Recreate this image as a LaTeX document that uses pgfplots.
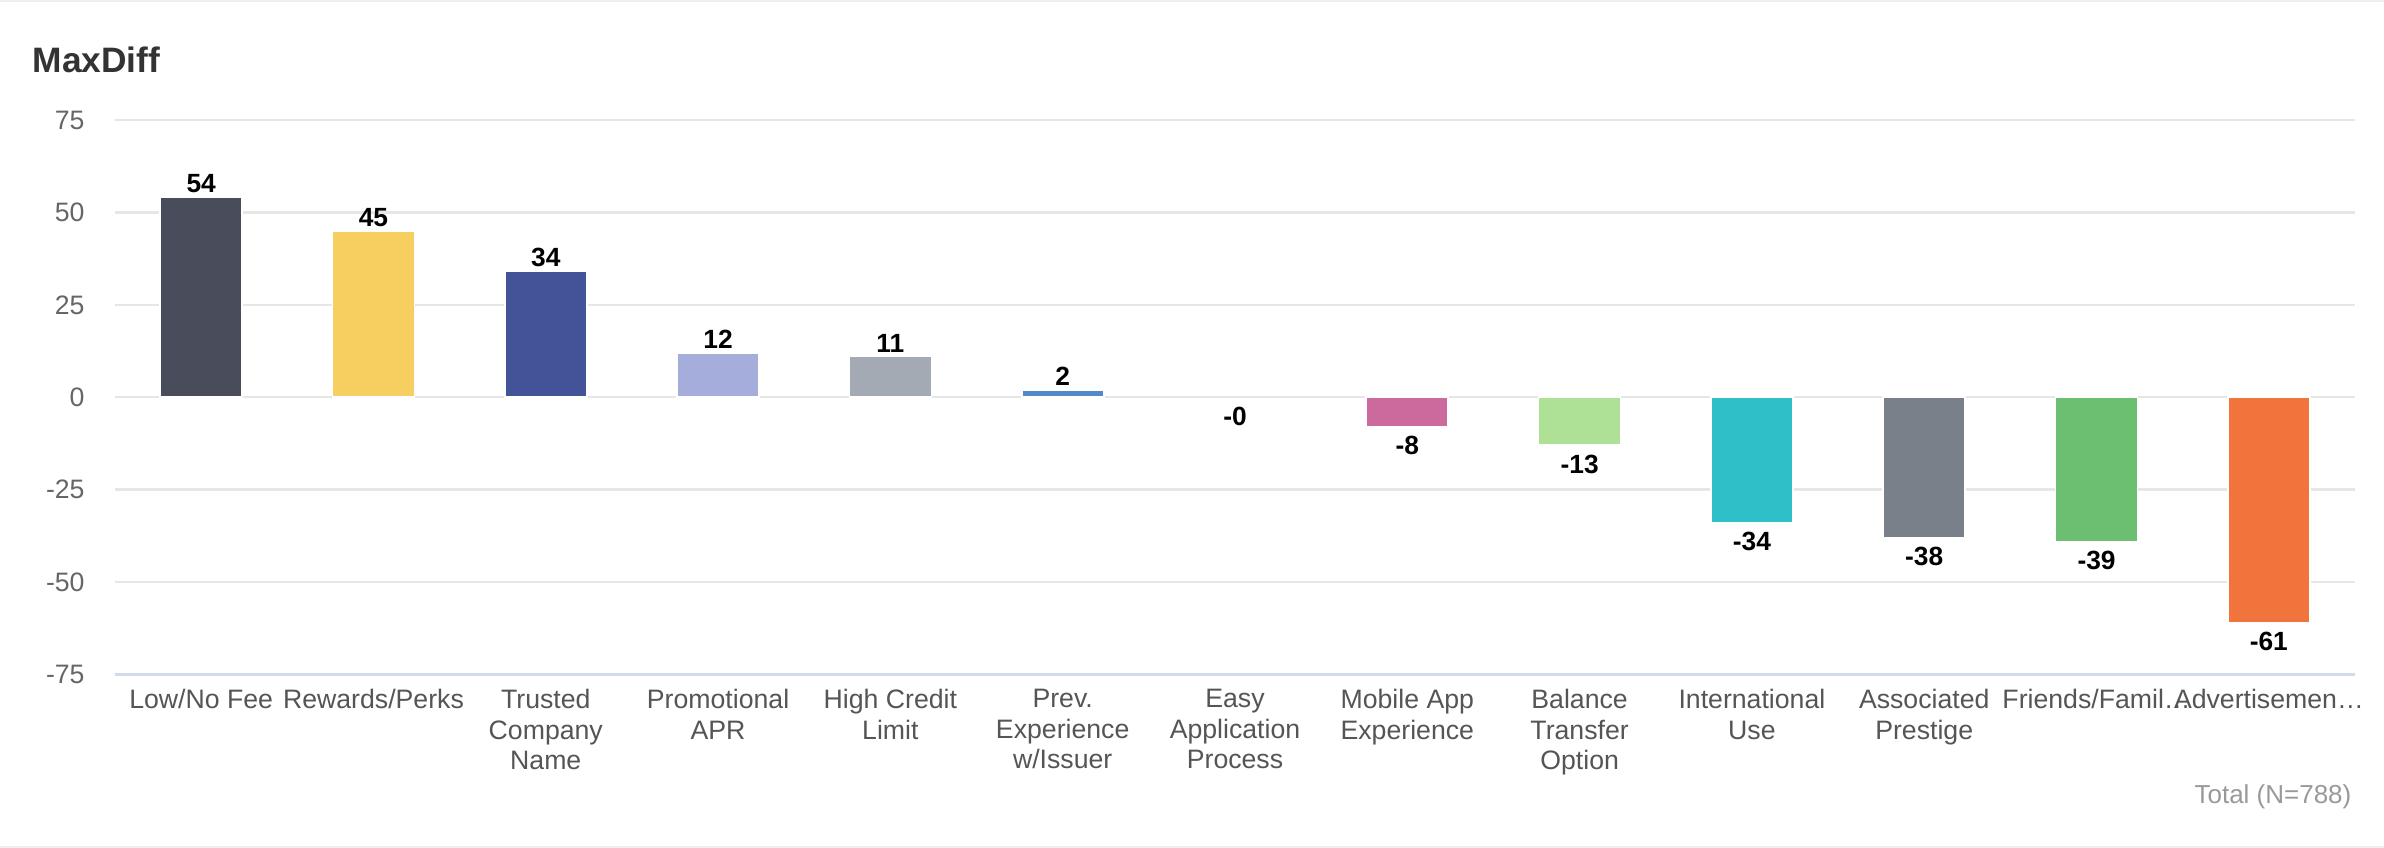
\documentclass[border=0pt]{standalone}
\usepackage{fontspec}
\setmainfont{Liberation Sans}
\usepackage{pgfplots}
\pgfplotsset{compat=1.18}
\definecolor{titlegray}{HTML}{333333}
\definecolor{tickgray}{HTML}{666666}
\definecolor{catgray}{HTML}{555555}
\definecolor{notegray}{HTML}{999999}
\definecolor{gridgray}{HTML}{E6E6E6}
\definecolor{baseblue}{HTML}{D3DAEA}
\definecolor{edgegray}{HTML}{EEEEEE}
\definecolor{cA}{HTML}{494C5A}
\definecolor{cB}{HTML}{F7CF60}
\definecolor{cC}{HTML}{435397}
\definecolor{cD}{HTML}{A5ADDC}
\definecolor{cE}{HTML}{A3AAB4}
\definecolor{cF}{HTML}{5289C8}
\definecolor{cH}{HTML}{CD6A9D}
\definecolor{cI}{HTML}{AEE196}
\definecolor{cJ}{HTML}{2FBFC8}
\definecolor{cK}{HTML}{7A8089}
\definecolor{cL}{HTML}{6CBE71}
\definecolor{cM}{HTML}{F0743C}

\pgfplotsset{
  pos/.style={nodes near coords style={anchor=south,inner sep=1.1pt}},
  neg/.style={nodes near coords style={anchor=north,inner sep=2.6pt}},
}

\begin{document}
\begin{tikzpicture}
\path[use as bounding box] (-34.5pt,-52.05pt) rectangle (680.7pt,202.35pt);
\draw[edgegray,line width=0.6pt] (-34.5pt,202.05pt) -- (680.7pt,202.05pt);
\draw[edgegray,line width=0.6pt] (-34.5pt,-51.75pt) -- (680.7pt,-51.75pt);
\node[anchor=west,inner sep=0pt,font=\fontsize{10.6}{12}\selectfont\bfseries,text=titlegray]
  at (-24.9pt,184.35pt) {MaxDiff};
\node[anchor=east,inner sep=0pt,font=\fontsize{7.8}{9}\selectfont,text=notegray]
  at (671.1pt,-36.75pt) {Total (N=788)};
\begin{axis}[
  at={(0pt,0pt)},anchor=south west,
  width=672pt,height=166.35pt,scale only axis,
  xmin=-0.5,xmax=12.5,ymin=-75,ymax=75,
  axis x line*=bottom,axis y line*=left,
  x axis line style={draw=baseblue,line width=0.8pt},
  y axis line style={draw=none},
  major tick length=0pt,
  ytick={-75,-50,...,75},
  ymajorgrids,grid style={gridgray,line width=0.7pt},
  /pgf/number format/assume math mode=true,
  yticklabel style={font=\fontsize{8}{9.6}\selectfont,text=tickgray,xshift=-5.6pt},
  xtick={0,...,12},
  xticklabels={Low/No Fee,Rewards/Perks,{Trusted\\Company\\Name},{Promotional\\APR},
    {High Credit\\Limit},{Prev.\\Experience\\w/Issuer},{Easy\\Application\\Process},
    {Mobile App\\Experience},{Balance\\Transfer\\Option},{International\\Use},
    {Associated\\Prestige},Friends/Famil…,Advertisemen…},
  xticklabel style={font=\fontsize{8}{9.1}\selectfont,text=catgray,align=center,
    anchor=north,yshift=-1pt},
  every axis plot/.append style={ybar,bar width=24.6pt,bar shift=0pt,
    draw=white,line width=0.5pt},
  nodes near coords,
  every node near coord/.append style={font=\fontsize{7.9}{9}\selectfont\bfseries,text=black},
]
\addplot[fill=cA,pos] coordinates {(0,54)};
\addplot[fill=cB,pos] coordinates {(1,45)};
\addplot[fill=cC,pos] coordinates {(2,34)};
\addplot[fill=cD,pos] coordinates {(3,12)};
\addplot[fill=cE,pos] coordinates {(4,11)};
\addplot[fill=cF,pos] coordinates {(5,2)};
% rounds to -0: the bar is too short to be seen
\addplot[fill=none,draw=none,neg,nodes near coords={-0}] coordinates {(6,-0.2)};
\addplot[fill=cH,neg] coordinates {(7,-8)};
\addplot[fill=cI,neg] coordinates {(8,-13)};
\addplot[fill=cJ,neg] coordinates {(9,-34)};
\addplot[fill=cK,neg] coordinates {(10,-38)};
\addplot[fill=cL,neg] coordinates {(11,-39)};
\addplot[fill=cM,neg] coordinates {(12,-61)};
\end{axis}
\end{tikzpicture}
\end{document}
